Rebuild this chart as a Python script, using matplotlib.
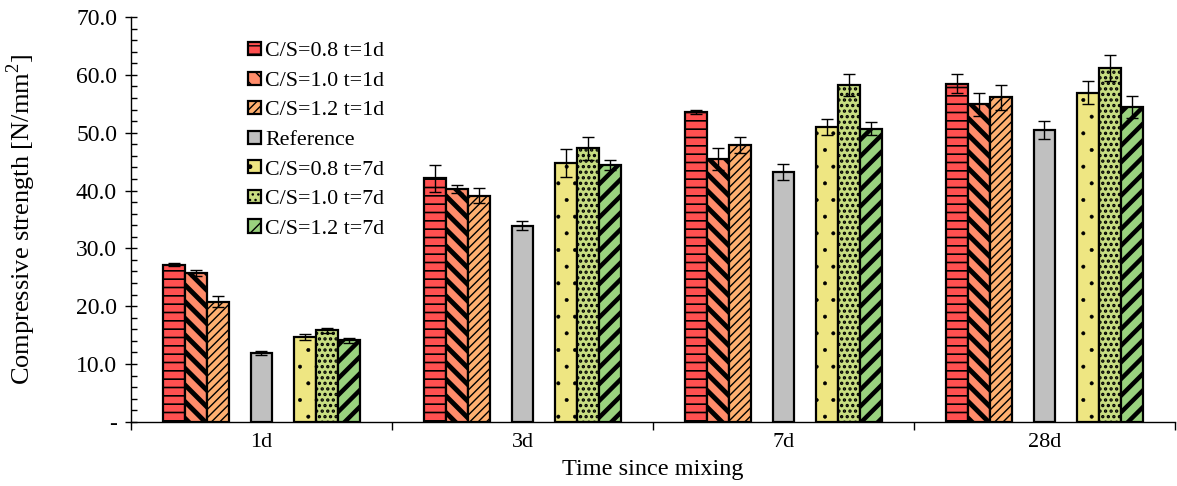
"""Compressive strength over time, grouped bars with hatches."""

import matplotlib

matplotlib.use("Agg")
import matplotlib.pyplot as plt  # noqa: E402
import numpy as np  # noqa: E402
from matplotlib.ticker import FixedLocator, FuncFormatter, MultipleLocator  # noqa: E402

categories = ["1d", "3d", "7d", "28d"]
series_names = [
    "C/S=0.8 t=1d",
    "C/S=1.0 t=1d",
    "C/S=1.2 t=1d",
    "Reference",
    "C/S=0.8 t=7d",
    "C/S=1.0 t=7d",
    "C/S=1.2 t=7d",
]

cs08_1d = [27.2, 42.1, 53.6, 58.5]
cs10_1d = [25.8, 40.3, 45.4, 54.9]
cs12_1d = [20.8, 39.1, 47.8, 56.1]
reference = [11.9, 33.9, 43.2, 50.5]
cs08_7d = [14.7, 44.7, 51.0, 56.9]
cs10_7d = [15.8, 47.3, 58.2, 61.2]
cs12_7d = [14.1, 44.4, 50.7, 54.4]

cs08_1d_err = [0.3, 2.3, 0.4, 1.6]
cs10_1d_err = [0.5, 0.7, 1.9, 2.0]
cs12_1d_err = [0.9, 1.3, 1.4, 2.2]
reference_err = [0.4, 0.8, 1.4, 1.6]
cs08_7d_err = [0.5, 2.4, 1.4, 2.0]
cs10_7d_err = [0.5, 2.0, 1.9, 2.3]
cs12_7d_err = [0.4, 0.9, 1.1, 1.9]

values = [cs08_1d, cs10_1d, cs12_1d, reference, cs08_7d, cs10_7d, cs12_7d]
errors = [cs08_1d_err, cs10_1d_err, cs12_1d_err, reference_err,
          cs08_7d_err, cs10_7d_err, cs12_7d_err]

# slot index inside a group of 9 slots (two empty gaps around the reference)
SLOTS = [-4, -3, -2, 0, 2, 3, 4]
COLORS = ["#FF5050", "#FF8C6A", "#FFB070", "#C0C0C0", "#EEE682", "#C8DE82", "#9AD27E"]
HATCHES = ["--", "\\\\", "////", "", ".", "...", "//"]
HATCH_WIDTHS = [1.2, 3.5, 1.0, 1.0, 0.4, 1.6, 3.2]
BAR_WIDTH = 0.084

plt.rcParams["font.family"] = ["Liberation Serif", "DejaVu Serif"]
plt.rcParams["mathtext.fontset"] = "custom"
plt.rcParams["mathtext.rm"] = "Liberation Serif"
plt.rcParams["hatch.color"] = "black"

fig = plt.figure(figsize=(11.77, 4.86), dpi=100)
ax = fig.add_axes([0.1113, 0.132, 0.887, 0.833])

x = np.arange(len(categories))
for name, vals, errs, slot, color, hatch, hw in zip(
    series_names, values, errors, SLOTS, COLORS, HATCHES, HATCH_WIDTHS
):
    with plt.rc_context({"hatch.linewidth": hw}):
        bars = ax.bar(
            x + slot * BAR_WIDTH,
            vals,
            width=BAR_WIDTH,
            color=color,
            edgecolor="black",
            linewidth=1.6,
            hatch=hatch,
            label=name,
            zorder=2,
        )
        for b in bars:
            if hasattr(b, "set_hatch_linewidth"):
                b.set_hatch_linewidth(hw)
    ax.errorbar(
        x + slot * BAR_WIDTH,
        vals,
        yerr=errs,
        fmt="none",
        ecolor="black",
        elinewidth=1.0,
        capsize=4.3,
        capthick=1.0,
        zorder=3,
    )

ax.set_xlim(-0.5, len(categories) - 0.5)
ax.set_ylim(0, 70)

ax.xaxis.set_major_locator(FixedLocator(np.arange(len(categories) + 1) - 0.5))
ax.xaxis.set_minor_locator(FixedLocator(x))
ax.xaxis.set_major_formatter(FuncFormatter(lambda v, p: ""))
ax.xaxis.set_minor_formatter(FuncFormatter(lambda v, p: categories[int(round(v))]))
ax.tick_params(axis="x", which="major", direction="out", length=6, width=1.0)
ax.tick_params(axis="x", which="minor", length=0, labelsize=16, pad=8)

ax.yaxis.set_major_locator(MultipleLocator(10))
ax.yaxis.set_minor_locator(MultipleLocator(2))
ax.yaxis.set_major_formatter(
    FuncFormatter(lambda v, p: "-" if abs(v) < 1e-9 else f"{v:.1f}")
)
ax.tick_params(axis="y", which="major", direction="inout", length=8, width=1.0,
               labelsize=17, pad=6)
ax.tick_params(axis="y", which="minor", direction="in", length=4, width=1.0)

for side in ("top", "right"):
    ax.spines[side].set_visible(False)
for side in ("left", "bottom"):
    ax.spines[side].set_linewidth(1.0)

ax.set_ylabel("Compressive strength [N/mm$^2$]", fontsize=19, labelpad=27)
ax.set_xlabel("Time since mixing", fontsize=17.5, labelpad=5)

ax.legend(
    loc="upper left",
    bbox_to_anchor=(0.104, 0.96),
    frameon=False,
    fontsize=15.8,
    handlelength=0.56,
    handleheight=0.56,
    handletextpad=0.2,
    labelspacing=0.46,
    borderaxespad=0.0,
)

fig.savefig("out.png", dpi=100)
